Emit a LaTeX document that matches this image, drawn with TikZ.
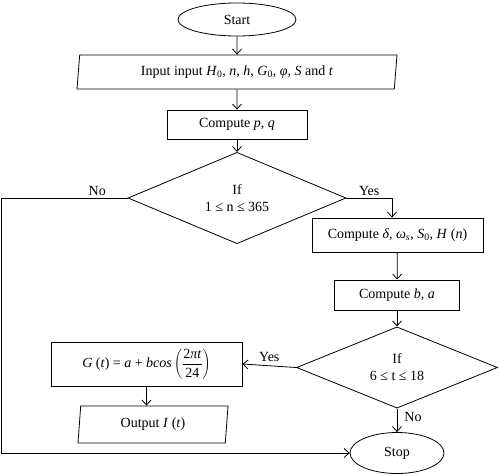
\documentclass[tikz,border=0pt]{standalone}
\usepackage{fontspec}
\setmainfont{Liberation Serif}
\usetikzlibrary{shapes.geometric,arrows.meta}
\begin{document}
\begin{tikzpicture}[x=1pt,y=-1pt,line width=0.8pt,
	every node/.style={draw,font=\fontsize{14}{17}\selectfont,inner sep=0pt,align=center},
	box/.style={rectangle},
	io/.style={trapezium,trapezium left angle=78,trapezium right angle=102,trapezium stretches body},
	cond/.style={diamond},
	term/.style={ellipse},
	lbl/.style={draw=none},
	>={Straight Barb[length=5pt,width=9pt]}]
\useasboundingbox (0,0) rectangle (500,474);
\node[term,minimum width=118pt,minimum height=33pt] (start) at (237,19.5) {Start};
\node[io,minimum width=320pt,minimum height=34pt] (input) at (237,72)
	{Input input \textit{H}\textsubscript{0}, \textit{n}, \textit{h}, \textit{G}\textsubscript{0}, \textit{φ}, \textit{S} and \textit{t}};
\node[box,minimum width=140pt,minimum height=29pt] (pq) at (237,124.5) {Compute \textit{p}, \textit{q}};
\node[cond,minimum width=218pt,minimum height=77pt] (ifn) at (237,198) {If\\1 ≤ n ≤ 365};
\node[box,minimum width=171pt,minimum height=34pt] (delta) at (397.5,235)
	{Compute \textit{δ}, \textit{ω\textsubscript{s}}, \textit{S}\textsubscript{0}, \textit{H} (\textit{n})};
\node[box,minimum width=125pt,minimum height=30pt] (ba) at (397,295) {Compute \textit{b}, \textit{a}};
\node[cond,minimum width=201pt,minimum height=79pt] (ift) at (397,367.5) {If\\6 ≤ t ≤ 18};
\node[box,minimum width=191pt,minimum height=44pt] (gt) at (146.5,364)
	{\textit{G} (\textit{t}) = \textit{a} + \textit{bcos}\,$\displaystyle\left(\frac{\mbox{2\textit{πt}}}{\mbox{24}}\right)$};
\node[io,minimum width=150pt,minimum height=37pt] (out) at (153,424.5) {Output \textit{I} (\textit{t})};
\node[term,minimum width=94pt,minimum height=41pt] (stop) at (397,453) {Stop};
\coordinate (back) at (1,0);
% connectors
\draw[->] (start) -- (input);
\draw[->] (input) -- (pq);
\draw[->] (pq) -- (ifn);
\draw[->] (ifn.west) -- node[lbl,above=2pt,pos=0.24] {No} (ifn.west -| back) |- (stop.west);
\draw[->] (ifn.east) -| node[lbl,above=2pt,pos=0.25] {Yes} ([xshift=-5.5pt]delta.north);
\draw[->] (delta) -- (ba);
\draw[->] (ba) -- (ift);
\draw[->] (ift.west) -- node[lbl,above=4pt] {Yes} (gt.east);
\draw[->] (gt.south) -- (gt.south |- out.north);
\draw[->] (ift.south) -- node[lbl,right=7pt,pos=0.35] {No} (stop.north);
\end{tikzpicture}
\end{document}
